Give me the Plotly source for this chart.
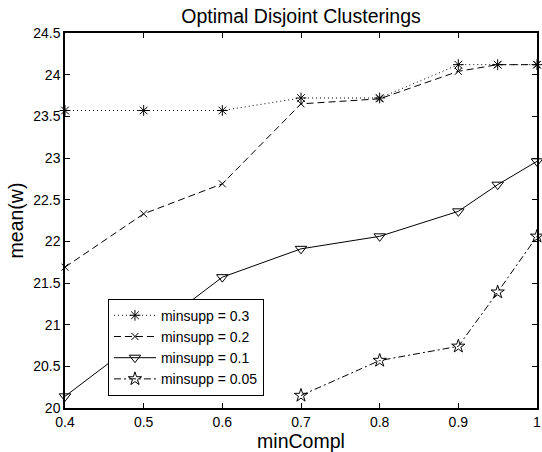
import plotly.graph_objects as go

# ---- data ----
x_s03 = [0.4, 0.5, 0.6, 0.7, 0.8, 0.9, 0.95, 1.0]
y_s03 = [23.57, 23.57, 23.57, 23.72, 23.72, 24.12, 24.12, 24.12]

x_s02 = [0.4, 0.5, 0.6, 0.7, 0.8, 0.9, 0.95, 1.0]
y_s02 = [21.69, 22.33, 22.69, 23.65, 23.71, 24.04, 24.12, 24.12]

x_s01 = [0.4, 0.6, 0.7, 0.8, 0.9, 0.95, 1.0]
y_s01 = [20.14, 21.57, 21.91, 22.06, 22.36, 22.68, 22.96]

x_s005 = [0.7, 0.8, 0.9, 0.95, 1.0]
y_s005 = [20.15, 20.57, 20.74, 21.39, 22.06]

series_names = ["minsupp = 0.3", "minsupp = 0.2", "minsupp = 0.1", "minsupp = 0.05"]

x_ticks = [0.4, 0.5, 0.6, 0.7, 0.8, 0.9, 1.0]
x_ticklabels = ["0.4", "0.5", "0.6", "0.7", "0.8", "0.9", "1"]
y_ticks = [20, 20.5, 21, 21.5, 22, 22.5, 23, 23.5, 24, 24.5]
y_ticklabels = ["20", "20.5", "21", "21.5", "22", "22.5", "23", "23.5", "24", "24.5"]

FONT = "Liberation Sans, Arial, Helvetica, sans-serif"

fig = go.Figure()

styles = [
    (x_s03, y_s03, "1px,3px", "asterisk-open", 9),
    (x_s02, y_s02, "7px,4px", "x-thin-open", 7),
    (x_s01, y_s01, "solid", "triangle-down-open", 10),
    (x_s005, y_s005, "7px,3px,2px,3px", "star-open", 10),
]

for (xs, ys, dash, sym, sz), name in zip(styles, series_names):
    fig.add_trace(go.Scatter(
        x=xs, y=ys, name=name, mode="lines+markers",
        line=dict(color="black", width=1, dash=dash),
        marker=dict(symbol=sym, size=sz, color="black",
                    line=dict(color="black", width=1)),
        cliponaxis=False,
    ))

axis_common = dict(
    showgrid=False, zeroline=False, showline=True, linecolor="black",
    linewidth=1.5, mirror="ticks", ticks="inside", ticklen=5,
    tickcolor="black", tickwidth=1, ticklabeloverflow="allow",
    tickfont=dict(family=FONT, size=14, color="black"),
)

fig.update_layout(
    width=542, height=452,
    margin=dict(l=65, r=1, t=33, b=44),
    paper_bgcolor="white", plot_bgcolor="white",
    title=dict(text="Optimal Disjoint Clusterings", x=0.5, xref="paper", xanchor="center",
               y=1 - 16 / 452, yanchor="middle", yref="container",
               font=dict(family=FONT, size=19.5, color="black")),
    xaxis=dict(range=[0.4, 1.0], tickvals=x_ticks, ticktext=x_ticklabels,
               title=dict(text="minCompl", font=dict(family=FONT, size=19.5, color="black"),
                          standoff=3),
               **axis_common),
    yaxis=dict(range=[20, 24.5], tickvals=y_ticks, ticktext=y_ticklabels,
               title=dict(text="mean(w)", font=dict(family=FONT, size=19.5, color="black"),
                          standoff=4),
               **axis_common),
    legend=dict(x=0.091, y=0.2915, xanchor="left", yanchor="top",
                bgcolor="white", bordercolor="black", borderwidth=1,
                font=dict(family=FONT, size=14, color="black"),
                itemwidth=42, tracegroupgap=0),
    showlegend=True,
)

fig.write_html("out.html",
               config={"displayModeBar": False},
               post_script="document.body.style.margin='0px';document.body.style.padding='0px';document.body.style.overflow='hidden';")
